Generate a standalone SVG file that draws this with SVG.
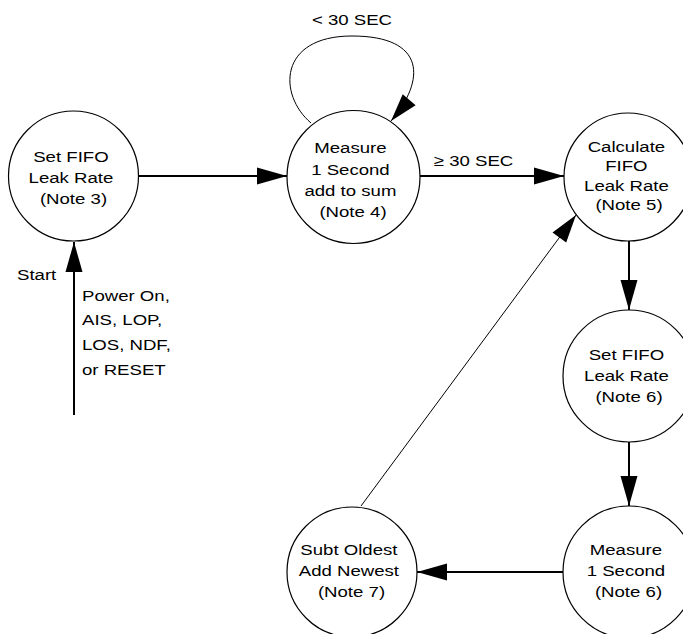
<svg xmlns="http://www.w3.org/2000/svg" width="683" height="634" viewBox="0 0 683 634">
<style>
  .node circle { fill: #fff; stroke: #000; stroke-width: 1.2; }
  text { font-family: "Liberation Sans", Arial, sans-serif; font-size: 15.5px; fill: #000; }
  .c { text-anchor: middle; }
  .thick { stroke: #000; stroke-width: 2; fill: none; }
  .thin { stroke: #000; stroke-width: 1; fill: none; }
</style>
<defs>
  <marker id="ah" markerUnits="userSpaceOnUse" markerWidth="30" markerHeight="17" refX="30" refY="8.5" orient="auto" overflow="visible">
    <path d="M0,0 L30,8.5 L0,17 Z" fill="#000"/>
  </marker>
  <marker id="ahs" markerUnits="userSpaceOnUse" markerWidth="28" markerHeight="17" refX="28" refY="8.5" orient="auto" overflow="visible">
    <path d="M0,0 L28,8.5 L0,17 Z" fill="#000"/>
  </marker>
</defs>
<rect width="683" height="634" fill="#fff"/>

<g id="connectors">
  <line class="thick" x1="138" y1="176" x2="287" y2="176" marker-end="url(#ah)"/>
  <line class="thick" x1="420" y1="176" x2="564" y2="176" marker-end="url(#ah)"/>
  <path class="thin" d="M311,123 C278,95 278,36 352,36 C426,36 426,80 391,121" marker-end="url(#ahs)"/>
  <line class="thick" x1="629" y1="241" x2="629" y2="310" marker-end="url(#ah)"/>
  <line class="thick" x1="629" y1="442" x2="629" y2="506" marker-end="url(#ah)"/>
  <line class="thick" x1="563" y1="572" x2="417" y2="572" marker-end="url(#ah)"/>
  <line class="thin" x1="361" y1="506" x2="576" y2="215" marker-end="url(#ahs)"/>
  <line class="thick" x1="74" y1="415" x2="74" y2="242" marker-end="url(#ah)"/>
</g>

<g id="labels">
  <text class="c" transform="translate(352,0) scale(1.2,1)" x="0" y="25">&lt; 30 SEC</text>
  <text class="c" transform="translate(473.5,0) scale(1.2,1)" x="0" y="166">≥ 30 SEC</text>
  <text transform="translate(17,0) scale(1.2,1)" x="0" y="280">Start</text>
  <text transform="translate(82,0) scale(1.2,1)">
    <tspan x="0" y="301">Power On,</tspan>
    <tspan x="0" y="325">AIS, LOP,</tspan>
    <tspan x="0" y="350">LOS, NDF,</tspan>
    <tspan x="0" y="375">or RESET</tspan>
  </text>
</g>

<g id="n1" class="node">
  <circle cx="73.5" cy="176" r="65"/>
  <text class="c" transform="translate(73.5,0) scale(1.2,1)">
    <tspan x="0" y="162">Set FIFO</tspan>
    <tspan x="0" y="183">Leak Rate</tspan>
    <tspan x="0" y="204">(Note 3)</tspan>
  </text>
</g>

<g id="n2" class="node">
  <circle cx="353.5" cy="177" r="66.5"/>
  <text class="c" transform="translate(353,0) scale(1.2,1)">
    <tspan x="0" y="153">Measure</tspan>
    <tspan x="0" y="175">1 Second</tspan>
    <tspan x="0" y="196.5">add to sum</tspan>
    <tspan x="0" y="217">(Note 4)</tspan>
  </text>
</g>

<g id="n3" class="node">
  <circle cx="628" cy="177" r="64"/>
  <text class="c" transform="translate(629,0) scale(1.2,1)">
    <tspan x="0" y="152">Calculate</tspan>
    <tspan x="0" y="171.5">FIFO</tspan>
    <tspan x="0" y="191">Leak Rate</tspan>
    <tspan x="0" y="210.5">(Note 5)</tspan>
  </text>
</g>

<g id="n4" class="node">
  <circle cx="629" cy="376" r="66"/>
  <text class="c" transform="translate(629,0) scale(1.2,1)">
    <tspan x="0" y="360">Set FIFO</tspan>
    <tspan x="0" y="381">Leak Rate</tspan>
    <tspan x="0" y="402">(Note 6)</tspan>
  </text>
</g>

<g id="n5" class="node">
  <circle cx="629" cy="572" r="66"/>
  <text class="c" transform="translate(628.5,0) scale(1.2,1)">
    <tspan x="0" y="555">Measure</tspan>
    <tspan x="0" y="576">1 Second</tspan>
    <tspan x="0" y="597">(Note 6)</tspan>
  </text>
</g>

<g id="n6" class="node">
  <circle cx="352" cy="572" r="65"/>
  <text class="c" transform="translate(351.5,0) scale(1.2,1)">
    <tspan x="0" y="555">Subt Oldest</tspan>
    <tspan x="0" y="576">Add Newest</tspan>
    <tspan x="0" y="597">(Note 7)</tspan>
  </text>
</g>
</svg>
